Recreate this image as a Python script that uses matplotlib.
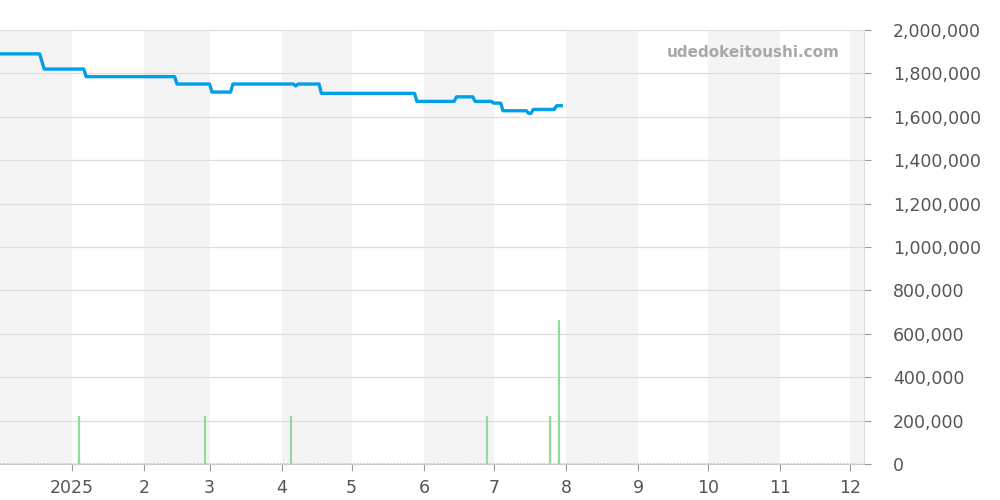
import numpy as np
import pandas as pd
import matplotlib
matplotlib.use("Agg")
import matplotlib.pyplot as plt
import matplotlib.dates as mdates
from matplotlib.ticker import FuncFormatter

#-------------------------------------------------------------------------------
# price line (corner points)
price_dates = ["2024-12-01", "2024-12-18", "2024-12-20", "2025-01-06", "2025-01-07",
               "2025-02-14", "2025-02-15", "2025-03-01", "2025-03-02", "2025-03-10",
               "2025-03-11", "2025-04-06", "2025-04-07", "2025-04-08", "2025-04-17",
               "2025-04-18", "2025-05-28", "2025-05-29", "2025-06-14", "2025-06-15",
               "2025-06-22", "2025-06-23", "2025-06-30", "2025-07-01", "2025-07-04",
               "2025-07-05", "2025-07-15", "2025-07-16", "2025-07-17", "2025-07-18",
               "2025-07-27", "2025-07-28", "2025-07-30"]
prices = [1890000, 1890000, 1820000, 1820000, 1785000,
          1785000, 1751000, 1751000, 1714000, 1714000,
          1751000, 1751000, 1742000, 1751000, 1751000,
          1708000, 1708000, 1671000, 1671000, 1692000,
          1692000, 1671000, 1671000, 1663000, 1663000,
          1628000, 1628000, 1616000, 1616000, 1634000,
          1634000, 1651000, 1651000]

# volume spikes
vol_dates = ["2025-01-04", "2025-02-27", "2025-04-05", "2025-06-28", "2025-07-25", "2025-07-29"]
volumes = [221000, 221000, 221000, 221000, 221000, 663000]

y_ticks = list(range(0, 2000001, 200000))
month_labels = ["2025", "2", "3", "4", "5", "6", "7", "8", "9", "10", "11", "12"]

#-------------------------------------------------------------------------------

x_start = pd.Timestamp("2024-12-01")
x_end = pd.Timestamp("2025-12-07")
vol_end = pd.Timestamp("2025-12-03")

fig = plt.figure(figsize=(10, 5), dpi=100)
ax = fig.add_axes([0.0, 0.072, 0.864, 0.868])

# alternating month bands
months = pd.date_range("2024-12-01", "2026-01-01", freq="MS")
for i in range(len(months) - 1):
    if i % 2 == 0:
        ax.axvspan(months[i], months[i + 1], color="#f4f4f4", lw=0, zorder=0)

for y in y_ticks:
    ax.axhline(y, color="#dddddd", lw=0.9, zorder=1)

# volume
ax.hlines(0, x_start, vol_end, color="#9edca8", lw=1.2, ls=(0, (1, 1)), zorder=2)
ax.vlines(pd.to_datetime(vol_dates), 0, volumes, color="#8fdc9b", lw=1.6, zorder=2)

# price
ax.plot(pd.to_datetime(price_dates), prices, color="#00a0e9", lw=2.4,
        solid_joinstyle="round", zorder=3)

ax.set_xlim(x_start, x_end)
ax.set_ylim(0, 2000000)

ax.yaxis.tick_right()
ax.set_yticks(y_ticks)
ax.yaxis.set_major_formatter(FuncFormatter(lambda v, p: f"{int(v):,}"))

ticks = pd.date_range("2025-01-01", "2025-12-01", freq="MS")
ax.set_xticks(ticks)
ax.set_xticklabels(month_labels)

ax.tick_params(axis="both", colors="#999999", labelcolor="#555555", labelsize=12.5,
               length=5, width=0.8)
ax.tick_params(axis="y", pad=16)
ax.tick_params(axis="x", pad=6)

for s in ["top", "left"]:
    ax.spines[s].set_visible(False)
ax.spines["right"].set_color("#dddddd")
ax.spines["bottom"].set_color("#cccccc")

ax.text(0.972, 0.948, "udedokeitoushi.com", transform=ax.transAxes,
        ha="right", va="center", fontsize=11, fontweight="bold", color="#a8a8a8")

plt.savefig("out.png", dpi=100)
